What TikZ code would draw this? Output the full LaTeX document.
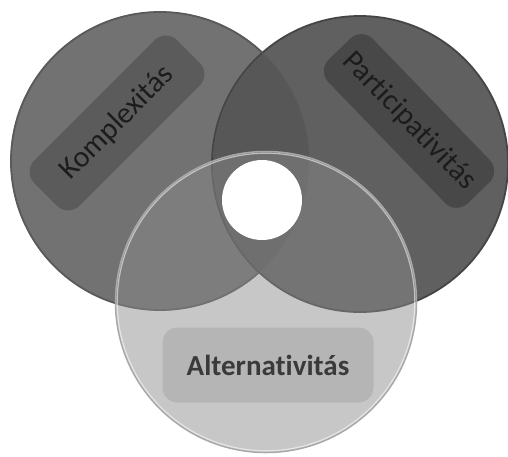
\documentclass[tikz,border=0pt]{standalone}
\usepackage{fontspec}
\setmainfont{Carlito}[RawFeature={-liga;-clig;-dlig}]
\definecolor{leftfill}{HTML}{727272}
\definecolor{leftline}{HTML}{5A5A5A}
\definecolor{rightfill}{HTML}{606060}
\definecolor{rightline}{HTML}{454545}
\definecolor{lensfill}{HTML}{575757}
\definecolor{botfill}{HTML}{8B8B8B}
\definecolor{botline}{HTML}{A8A8A8}
\definecolor{kbox}{HTML}{5B5B5B}
\definecolor{pbox}{HTML}{484848}
\definecolor{abox}{HTML}{B5B5B5}
\definecolor{ktext}{HTML}{1C1C1C}
\definecolor{atext}{HTML}{3A3A3A}
\tikzset{
  ring/.style={circle, inner sep=0pt, outer sep=0pt},
  labelbox/.style={rounded corners=16pt, inner sep=0pt, align=center,
    font=\fontsize{30}{34}\selectfont},
}
\begin{document}
\begin{tikzpicture}[x=1pt,y=-1pt]
\useasboundingbox[fill=white] (0,0) rectangle (508,456);
% left circle
\node[ring, minimum size=298pt, fill=leftfill, draw=leftline, line width=1.8pt] (L) at (160,161) {};
% right circle
\node[ring, minimum size=296pt, fill=rightfill, draw=rightline, line width=1.8pt] (R) at (360,164) {};
% lens between left and right
\begin{scope}
  \clip (L.center) circle[radius=149pt];
  \fill[lensfill] (R.center) circle[radius=147pt];
\end{scope}
\draw[leftline, line width=1.2pt, opacity=0.6] (L.center) circle[radius=149pt];
% text boxes of the two dark circles
\node[labelbox, minimum width=202pt, minimum height=64pt, fill=kbox, text=ktext, rotate=45] (K) at (117,123) {Komplexitás};
\node[labelbox, minimum width=200pt, minimum height=62pt, fill=pbox, text=ktext, rotate=-46] (P) at (409,121) {Participativitás};
% bottom circle
\node[ring, minimum size=300pt, fill=botfill, fill opacity=0.48] (B) at (266,302) {};
\draw[botline, line width=1.5pt] (B.center) circle[radius=150.5pt];
\draw[white, line width=1.2pt, opacity=0.55] (B.center) circle[radius=148.8pt];
% bottom text box
\node[labelbox, rounded corners=15pt, minimum width=211pt, minimum height=75pt, fill=abox, text=atext, font=\fontsize{29}{34}\selectfont\bfseries] (A) at (268,365) {Alternativitás};
% white centre
\node[ring, minimum size=80pt, fill=white] (C) at (262,200) {};
\end{tikzpicture}
\end{document}
